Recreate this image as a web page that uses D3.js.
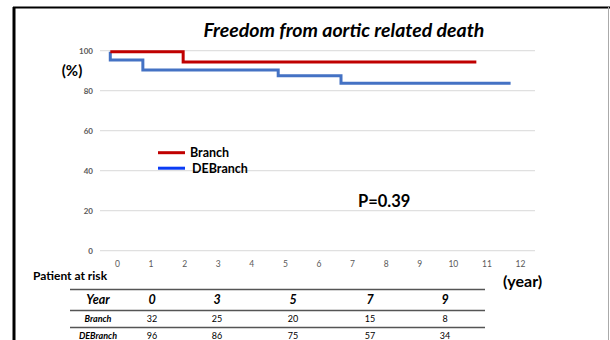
<!DOCTYPE html>
<html><head><meta charset="utf-8">
<script src="https://cdn.jsdelivr.net/npm/d3@7"></script>
<style>body{margin:0;background:#fff}svg{display:block}</style>
</head><body>
<script>
// ---- data ----
const xTicks = [0,1,2,3,4,5,6,7,8,9,10,11,12];
const yTicks = [0,20,40,60,80,100];
const branchTime = [-0.2, 1.97, 10.7];
const branchSurv = [99.5, 94.3, 94.3];
const debranchTime = [-0.2, -0.2, 0.77, 4.8, 6.67, 11.72];
const debranchSurv = [99.5, 95.3, 90.3, 87.5, 83.7, 83.7];
const seriesNames = ["Branch","DEBranch"];
const riskYears = ["0","3","5","7","9"];
const riskBranch = ["32","25","20","15","8"];
const riskDEBranch = ["96","86","75","57","34"];

const W=610,H=340;
const svg=d3.select("body").append("svg").attr("width",W).attr("height",H);
const font="Lato, 'Open Sans', sans-serif";

// frame
svg.append("line").attr("x1",14).attr("x2",14).attr("y1",7).attr("y2",H).attr("stroke","#000").attr("stroke-width",3);
svg.append("line").attr("x1",13).attr("x2",W).attr("y1",7.5).attr("y2",7.5).attr("stroke","#000").attr("stroke-width",2);
svg.append("line").attr("x1",608.5).attr("x2",608.5).attr("y1",7).attr("y2",H).attr("stroke","#aaa").attr("stroke-width",1);

const x=d3.scaleLinear().domain([0,12]).range([117,520]);
const y=d3.scaleLinear().domain([0,100]).range([250.7,50.7]);

// gridlines
svg.append("g").selectAll("line").data(yTicks).join("line")
  .attr("x1",100).attr("x2",535).attr("y1",d=>y(d)).attr("y2",d=>y(d))
  .attr("stroke","#e0e0e0").attr("stroke-width",1.2);

// y axis labels
const yAxis=d3.axisLeft(y).tickValues(yTicks).tickSize(0).tickPadding(0);
const gy=svg.append("g").attr("transform","translate(93,0)").call(yAxis);
gy.select(".domain").remove();
gy.selectAll("text").attr("font-family",font).attr("font-size",8).attr("font-weight","bold").attr("fill","#595959");

// x axis labels
const xAxis=d3.axisBottom(x).tickValues(xTicks).tickSize(0).tickPadding(0);
const gx=svg.append("g").attr("transform","translate(0,261)").call(xAxis);
gx.select(".domain").remove();
gx.selectAll("text").attr("font-family",font).attr("font-size",8.5).attr("fill","#595959");

// curves
const line=d3.line().x(d=>x(d[0])).y(d=>y(d[1])).curve(d3.curveStepAfter);
svg.append("path").datum(debranchTime.map((t,i)=>[t,debranchSurv[i]]))
  .attr("d",line).attr("fill","none").attr("stroke","#4472c4").attr("stroke-width",3);
svg.append("path").datum(branchTime.map((t,i)=>[t,branchSurv[i]]))
  .attr("d",line).attr("fill","none").attr("stroke","#c00000").attr("stroke-width",3);

// title
svg.append("text").attr("x",344).attr("y",37).attr("text-anchor","middle")
  .attr("font-family",font).attr("font-size",19.5).attr("font-weight","bold").attr("font-style","italic")
  .text("Freedom from aortic related death");
svg.append("text").attr("x",72).attr("y",76).attr("text-anchor","middle")
  .attr("font-family",font).attr("font-size",15).attr("font-weight","bold").text("(%)");

// legend
const legColors=["#c00000","#0b3cf5"];
seriesNames.forEach((n,i)=>{
  const ly=152.7+i*15.5;
  svg.append("line").attr("x1",158).attr("x2",185).attr("y1",ly).attr("y2",ly)
    .attr("stroke",legColors[i]).attr("stroke-width",3);
  svg.append("text").attr("x",190+i*2).attr("y",ly+4.5).attr("font-family",font)
    .attr("font-size",12.5).attr("font-weight","bold").text(n);
});

// p value
svg.append("text").attr("x",358).attr("y",207).attr("font-family",font)
  .attr("font-size",16.5).attr("font-weight","bold").text("P=0.39");

svg.append("text").attr("x",33).attr("y",280).attr("font-family",font)
  .attr("font-size",12).attr("font-weight","bold").text("Patient at risk");
svg.append("text").attr("x",503).attr("y",287).attr("font-family",font)
  .attr("font-size",16).attr("font-weight","bold").text("(year)");

// risk table
const colCenters=[152,217,293,370,445];
[289.5,310.5,327.5].forEach(ly=>{
  svg.append("line").attr("x1",70).attr("x2",485).attr("y1",ly).attr("y2",ly)
   .attr("stroke","#555").attr("stroke-width",1.6);
});
const rows=[
  {label:"Year",vals:riskYears,y:304,size:12.5,lsize:12.5},
  {label:"Branch",vals:riskBranch,y:322,size:9,lsize:9},
  {label:"DEBranch",vals:riskDEBranch,y:339,size:9,lsize:9}
];
rows.forEach((r,ri)=>{
  svg.append("text").attr("x",98).attr("y",r.y).attr("text-anchor","middle")
    .attr("font-family",font).attr("font-size",r.lsize).attr("font-weight","bold").attr("font-style","italic").text(r.label);
  svg.append("g").selectAll("text").data(r.vals).join("text")
    .attr("x",(d,i)=>colCenters[i]).attr("y",r.y).attr("text-anchor","middle")
    .attr("font-family",font).attr("font-size",r.size)
    .attr("font-weight",ri==0?"bold":"normal").attr("font-style",ri==0?"italic":"normal")
    .text(d=>d);
});
</script>
</body></html>
